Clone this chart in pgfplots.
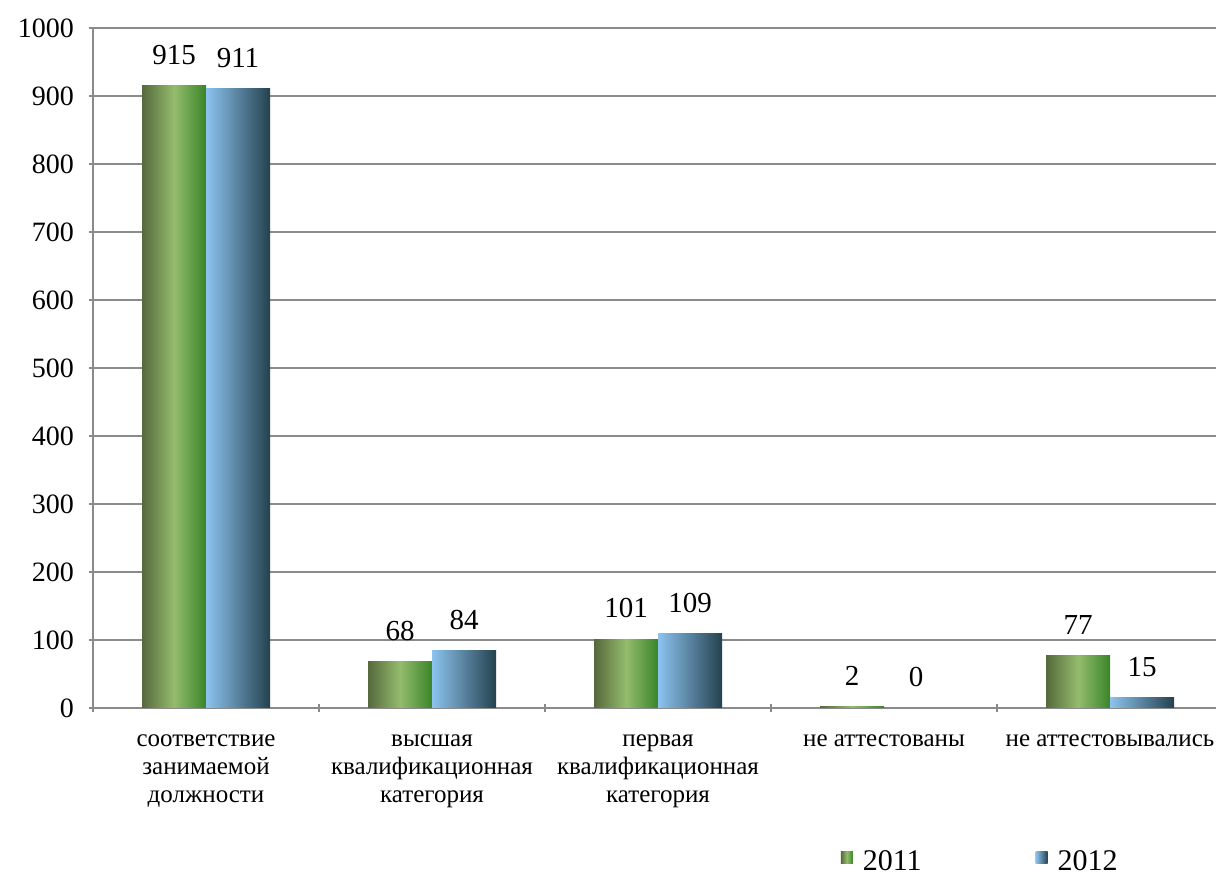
\documentclass[border=0pt]{standalone}
\usepackage{fontspec}
\setmainfont{Liberation Serif}
\usepackage{pgfplots}
\pgfplotsset{compat=1.18}

\definecolor{axisgray}{HTML}{8A8A8A}
\definecolor{gA}{HTML}{56693C}
\definecolor{gB}{HTML}{94BC6C}
\definecolor{gC}{HTML}{3A8529}
\definecolor{bA}{HTML}{8CC3EF}
\definecolor{bB}{HTML}{24424F}

\pgfplotsset{
  y2011/.style={draw=none, bar shift=-16pt, left color=gA, right color=gC, middle color=gB},
  y2012/.style={draw=none, bar shift=16pt, left color=bA, right color=bB},
}

\begin{document}
\begin{tikzpicture}
\begin{axis}[
  name=ax,
  scale only axis,
  width=561.5pt, height=340pt,
  ybar=0pt, bar width=32pt,
  xmin=-0.5, xmax=4.469,
  ymin=0, ymax=1000,
  ytick={0,100,...,1000},
  xtick={0,1,2,3,4},
  xticklabels={{соответствие\\занимаемой\\должности},
               {высшая\\квалификационная\\категория},
               {первая\\квалификационная\\категория},
               {не аттестованы},
               {не аттестовывались}},
  minor xtick={-0.5,0.5,1.5,2.5,3.5},
  major x tick style={draw=none},
  minor tick length=4pt,
  major tick length=4pt,
  tick align=outside,
  axis lines=left,
  axis line style={-, axisgray, line width=1pt},
  tick style={axisgray, line width=1pt},
  ymajorgrids,
  grid style={axisgray, line width=1pt},
  /pgf/number format/assume math mode=true,
  /pgf/number format/1000 sep={},
  yticklabel style={font=\fontsize{14}{16}\selectfont, xshift=-4pt},
  xticklabel style={font=\fontsize{12.5}{14}\selectfont, align=center, yshift=-8pt},
  nodes near coords,
  nodes near coords style={font=\fontsize{14.5}{16}\selectfont, anchor=south, yshift=7pt},
  legend columns=2,
  legend style={draw=none, fill=none, at={(0.791,0)}, anchor=center, yshift=-77pt,
    font=\fontsize{15}{16}\selectfont,
    /tikz/every odd column/.append style={column sep=3pt},
    /tikz/every even column/.append style={column sep=55pt},
    nodes={inner sep=2pt}},
  legend image code/.code={\path[#1, draw=none] (0pt,-1pt) rectangle (6pt,5pt);},
]
% 2011
\addplot[y2011] coordinates {(0,915)};
\addlegendentry{2011}
% 2012
\addplot[y2012] coordinates {(0,911)};
\addlegendentry{2012}
% remaining bars, one path each so every bar gets its own shading
\addplot[y2011, forget plot] coordinates {(1,68)};
\addplot[y2011, forget plot] coordinates {(2,101)};
\addplot[y2011, forget plot] coordinates {(3,2)};
\addplot[y2011, forget plot] coordinates {(4,77)};
\addplot[y2012, forget plot] coordinates {(1,84)};
\addplot[y2012, forget plot] coordinates {(2,109)};
\addplot[y2012, forget plot] coordinates {(3,0)};
\addplot[y2012, forget plot] coordinates {(4,15)};
\end{axis}
\pgfresetboundingbox
\path ([xshift=-46.5pt,yshift=-84.5pt]ax.south west) rectangle ([yshift=14pt]ax.north east);
\end{tikzpicture}
\end{document}
